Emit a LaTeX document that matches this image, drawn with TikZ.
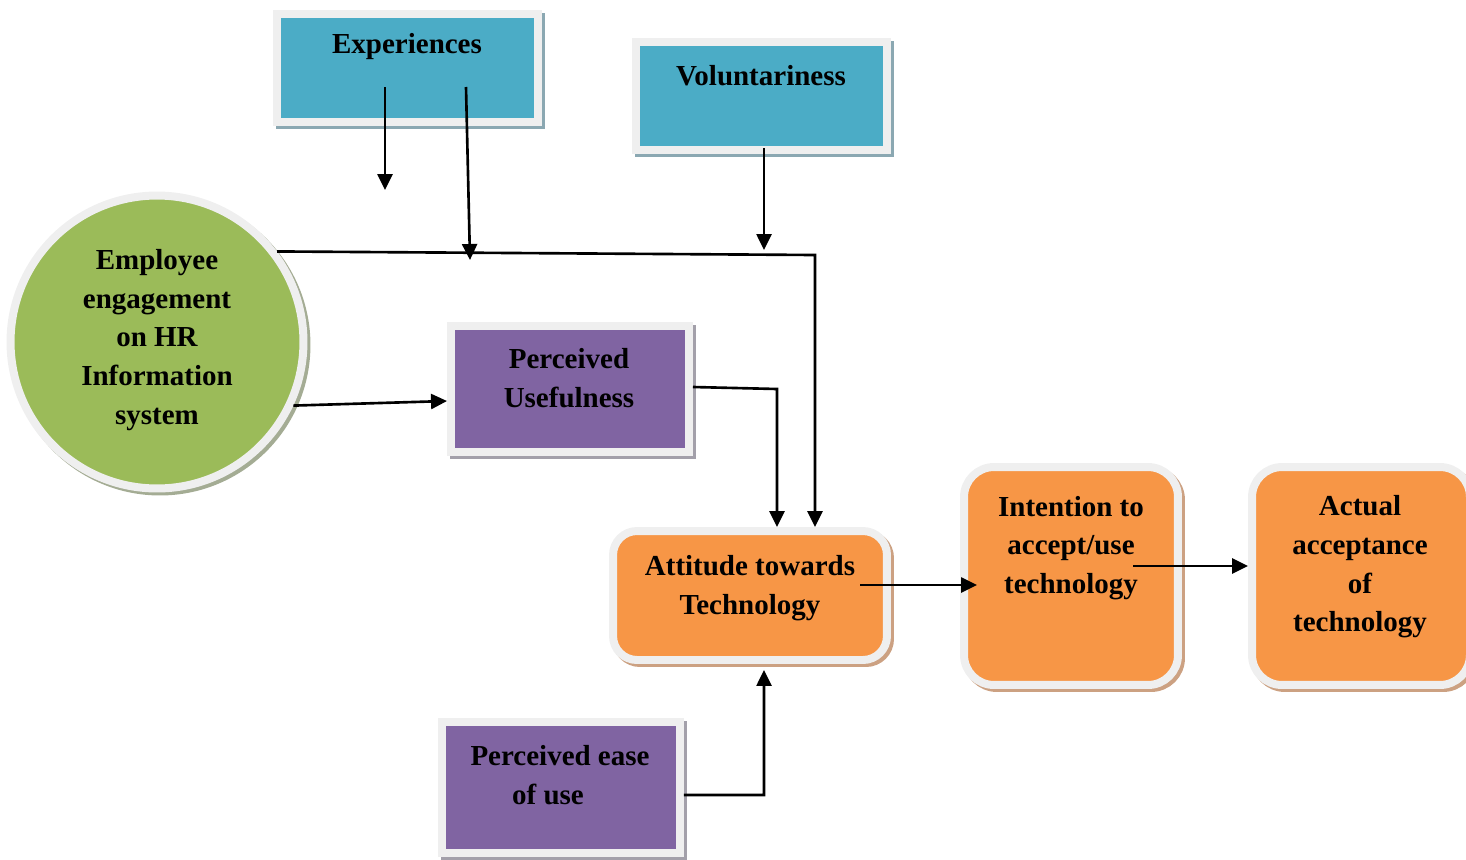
\documentclass[tikz,border=0pt]{standalone}
\usepackage{fontspec}
\setmainfont{Liberation Serif}
\usetikzlibrary{arrows.meta}
\definecolor{expblue}{HTML}{4BACC6}
\definecolor{empgreen}{HTML}{9BBB59}
\definecolor{perpurple}{HTML}{8064A2}
\definecolor{attorange}{HTML}{F79646}
\definecolor{framegrey}{HTML}{EFEFEF}
\definecolor{blueshadow}{HTML}{8BA8B2}
\definecolor{greenshadow}{HTML}{A4AC94}
\definecolor{purpleshadow}{HTML}{A3A0AA}
\definecolor{orangeshadow}{HTML}{CCA182}

\tikzset{
  box/.style={draw=framegrey, line width=0.16cm, inner sep=0pt},
  boxshadow/.style={preaction={draw=#1, line width=0.16cm,
      transform canvas={xshift=0.06cm, yshift=-0.06cm}}},
  txt/.style={font=\bfseries\fontsize{16.5}{22}\selectfont, align=center, inner sep=0pt},
  arr/.style={line width=1.5pt, -{Triangle[length=0.32cm,width=0.3cm]}},
}

\begin{document}
\begin{tikzpicture}[x=0.02cm, y=-0.02cm]
    \useasboundingbox (0,0) rectangle (1466,859);
    % boxes
    \node[box, boxshadow=blueshadow, fill=expblue,
        minimum width=5.22cm, minimum height=2.17cm] (exp) at (407.5,67.75) {};
    \node[box, boxshadow=blueshadow, fill=expblue,
        minimum width=5.04cm, minimum height=2.17cm] (vol) at (761.5,95.75) {};
    \node[circle, box, boxshadow=greenshadow, fill=empgreen,
        minimum size=5.86cm] (emp) at (157,342) {};
    \node[box, boxshadow=purpleshadow, fill=perpurple,
        minimum width=4.76cm, minimum height=2.52cm] (pu) at (570,389) {};
    \node[box, boxshadow=purpleshadow, fill=perpurple,
        minimum width=4.76cm, minimum height=2.62cm] (peou) at (561,787.5) {};
    \node[box, boxshadow=orangeshadow, fill=attorange, rounded corners=0.48cm,
        minimum width=5.48cm, minimum height=2.58cm] (att) at (750,595.5) {};
    \node[box, boxshadow=orangeshadow, fill=attorange, rounded corners=0.6cm,
        minimum width=4.28cm, minimum height=4.36cm] (int) at (1071,576) {};
    \node[box, boxshadow=orangeshadow, fill=attorange, rounded corners=0.6cm,
        minimum width=4.36cm, minimum height=4.36cm] (act) at (1361,576) {};

    % texts
    \node[txt] (exp txt) at (407,47) {Experiences};
    \node[txt] (vol txt) at (761,76) {Voluntariness};
    \node[txt] (emp txt) at (157,340) {Employee\\engagement\\on HR\\Information\\system};
    \node[txt] (pu txt) at (569,378) {Perceived\\Usefulness};
    \node[txt] (peou txt) at (560,775) {Perceived ease\\of use\hspace*{0.48cm}};
    \node[txt] (att txt) at (750,588) {Attitude towards\\Technology};
    \node[txt] (int txt) at (1071,548) {Intention to\\accept/use\\technology};
    \node[txt] (act txt) at (1360,567) {Actual\\acceptance\\of\\technology};

    % free ends and bends
    \coordinate (exp a) at (385,87);
    \coordinate (exp a end) at (385,190);
    \coordinate (exp b) at (466,87);
    \coordinate (exp b end) at (470,260);
    \coordinate (vol a) at (764,148);
    \coordinate (vol a end) at (764,250);
    \coordinate (bend1) at (815,255);
    \coordinate (bend2) at (777,389);
    \coordinate (bend3) at (764,795);
    \coordinate (att out) at (860,585);
    \coordinate (int in) at (977,585);
    \coordinate (int out) at (1133,566);

    % connectors
    \draw[arr] (exp a) -- (exp a end);
    \draw[arr] (exp b) -- (exp b end);
    \draw[arr] (vol a) -- (vol a end);
    \draw[arr] (emp.37) -- (bend1) -- (bend1 |- att.north);
    \draw[arr] (emp.-25) -- ([yshift=-0.24cm]pu.west);
    \draw[arr] ([yshift=0.04cm]pu.east) -- (bend2) -- (bend2 |- att.north);
    \draw[arr] ([yshift=-0.15cm]peou.east) -- (bend3) -- ([yshift=-0.12cm]bend3 |- att.south);
    \draw[arr] (att out) -- (int in);
    \draw[arr] (int out) -- (int out -| act.west);
\end{tikzpicture}
\end{document}
